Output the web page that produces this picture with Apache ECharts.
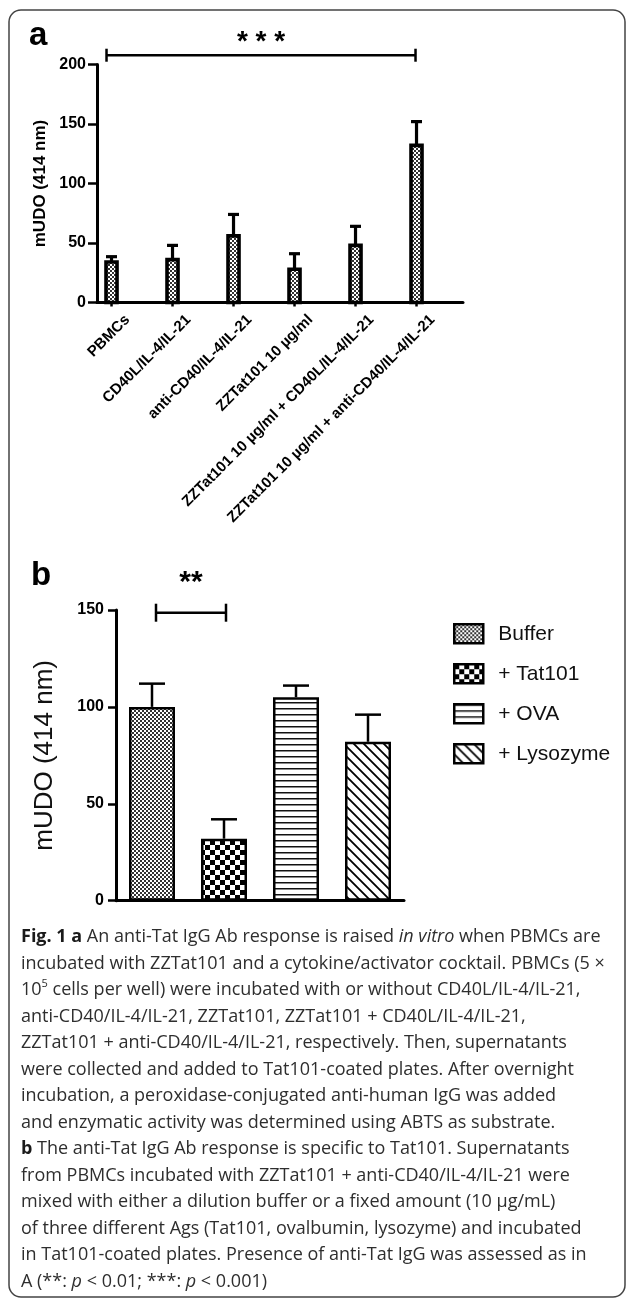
<!DOCTYPE html>
<html><head><meta charset="utf-8">
<script src="https://cdn.jsdelivr.net/npm/echarts@6/dist/echarts.min.js"></script>
<style>html,body{margin:0;padding:0;background:#fff}#c{width:627px;height:1301px}</style>
</head><body><div id="c"></div><script>
// ---------- data ----------
const catsA = ['PBMCs', 'CD40L/IL-4/IL-21', 'anti-CD40/IL-4/IL-21', 'ZZTat101 10 µg/ml',
  'ZZTat101 10 µg/ml + CD40L/IL-4/IL-21', 'ZZTat101 10 µg/ml + anti-CD40/IL-4/IL-21'];
const meanA = [34, 36, 56, 28, 48, 132];
const errTopA = [38.5, 48, 74, 41, 64, 152];
const ticksA = {min: 0, max: 200, interval: 50};
const sigA = [[0, 5, 207.8]];
const sigLabelA = ['* * *'];

const catsB = ['Buffer', '+ Tat101', '+ OVA', '+ Lysozyme'];
const meanB = [100, 32, 105, 82];
const errTopB = [112, 42, 111, 96];
const ticksB = {min: 0, max: 150, interval: 50};
const sigB = [[0, 1, 148.6]];
const sigLabelB = ['**'];

const yName = 'mUDO (414 nm)';
const captionLines = [
  '{b|Fig. 1 a} An anti-Tat IgG Ab response is raised {i|in vitro} when PBMCs are',
  'incubated with ZZTat101 and a cytokine/activator cocktail. PBMCs (5 ×',
  '10{sup|5} cells per well) were incubated with or without CD40L/IL-4/IL-21,',
  'anti-CD40/IL-4/IL-21, ZZTat101, ZZTat101 + CD40L/IL-4/IL-21,',
  'ZZTat101 + anti-CD40/IL-4/IL-21, respectively. Then, supernatants',
  'were collected and added to Tat101-coated plates. After overnight',
  'incubation, a peroxidase-conjugated anti-human IgG was added',
  'and enzymatic activity was determined using ABTS as substrate.',
  '{b|b} The anti-Tat IgG Ab response is specific to Tat101. Supernatants',
  'from PBMCs incubated with ZZTat101 + anti-CD40/IL-4/IL-21 were',
  'mixed with either a dilution buffer or a fixed amount (10 µg/mL)',
  'of three different Ags (Tat101, ovalbumin, lysozyme) and incubated',
  'in Tat101-coated plates. Presence of anti-Tat IgG was assessed as in',
  'A (**: {i|p} < 0.01; ***: {i|p} < 0.001)'
];

// ---------- patterns ----------
function pat(w, h, draw) {
  const c = document.createElement('canvas'); c.width = w; c.height = h;
  const g = c.getContext('2d'); g.fillStyle = '#fff'; g.fillRect(0, 0, w, h); draw(g);
  return {image: c, repeat: 'repeat'};
}
const finePat = pat(4, 4, g => { g.fillStyle = '#333'; g.fillRect(0, 0, 2, 2); g.fillRect(2, 2, 2, 2); });
const checkPat = pat(10, 10, g => { g.fillStyle = '#000'; g.fillRect(0, 0, 5, 5); g.fillRect(5, 5, 5, 5); });
const hlinePat = pat(6, 6, g => { g.fillStyle = '#111'; g.fillRect(0, 0, 6, 1); g.fillStyle = '#888'; g.fillRect(0, 1, 6, 1); });
const diagPat = pat(10, 10, g => {
  g.strokeStyle = '#000'; g.lineWidth = 1.8;
  g.beginPath(); g.moveTo(-1, -1); g.lineTo(11, 11); g.moveTo(-1, 9); g.lineTo(1, 11); g.moveTo(9, -1); g.lineTo(11, 1); g.stroke();
});
const patsB = [finePat, checkPat, hlinePat, diagPat];

const ARIAL = 'Liberation Sans';
const CAP = 'Open Sans';

// ---------- renderers ----------
function renderBarA(params, api) {
  const i = api.value(0), m = api.value(1), e = api.value(2);
  const base = api.coord([i, 0]), top = api.coord([i, m]), et = api.coord([i, e]);
  const band = api.size([1, 0])[0];
  const x = base[0] - band * 0.262;
  const w = 11;
  return {type: 'group', children: [
    {type: 'line', shape: {x1: x, y1: base[1], x2: x, y2: base[1] + 4}, style: {stroke: '#000', lineWidth: 2.5}},
    {type: 'line', shape: {x1: x, y1: top[1], x2: x, y2: et[1]}, style: {stroke: '#000', lineWidth: 3.2}},
    {type: 'line', shape: {x1: x - 5.5, y1: et[1], x2: x + 5.5, y2: et[1]}, style: {stroke: '#000', lineWidth: 3.2}},
    {type: 'rect', shape: {x: x - w / 2, y: top[1], width: w, height: base[1] - top[1]},
      style: {fill: finePat, stroke: '#000', lineWidth: 3.6}}
  ]};
}
function renderErrB(params, api) {
  const i = api.value(0), m = api.value(1), e = api.value(2);
  const top = api.coord([i, m]), et = api.coord([i, e]);
  return {type: 'group', children: [
    {type: 'line', shape: {x1: top[0], y1: top[1], x2: top[0], y2: et[1]}, style: {stroke: '#000', lineWidth: 2.5}},
    {type: 'line', shape: {x1: top[0] - 13, y1: et[1], x2: top[0] + 13, y2: et[1]}, style: {stroke: '#000', lineWidth: 2.5}}
  ]};
}
function makeBracket(labels, opts) {
  return function (params, api) {
    const band = api.size([1, 0])[0];
    const a = api.coord([api.value(0), api.value(2)]);
    const b = api.coord([api.value(1), api.value(2)]);
    const x1 = a[0] + opts.off * band + opts.dx1, x2 = b[0] + opts.off * band + opts.dx2, y = a[1];
    return {type: 'group', children: [
      {type: 'line', shape: {x1: x1, y1: y, x2: x2, y2: y}, style: {stroke: '#000', lineWidth: opts.lw}},
      {type: 'line', shape: {x1: x1, y1: y - opts.th, x2: x1, y2: y + opts.th}, style: {stroke: '#000', lineWidth: opts.lw}},
      {type: 'line', shape: {x1: x2, y1: y - opts.th, x2: x2, y2: y + opts.th}, style: {stroke: '#000', lineWidth: opts.lw}},
      {type: 'text', x: (x1 + x2) / 2, y: y - opts.ty, style: {text: labels[params.dataIndex], fontFamily: ARIAL,
        fontWeight: 'bold', fontSize: opts.fs, fill: '#000', align: 'center', verticalAlign: 'middle'}}
    ]};
  };
}

// ---------- chart ----------
const chart = echarts.init(document.getElementById('c'), null, {renderer: 'canvas'});
const axisLineStyle = {color: '#000', width: 3};

const captionGraphics = captionLines.map((t, k) => ({
  type: 'text', x: 21, y: 937 + k * 26.5, z: 10,
  style: {
    text: t, fontFamily: CAP, fontSize: 18, fill: '#2e2e2e', verticalAlign: 'middle', lineHeight: 24,
    rich: {
      b: {fontFamily: CAP, fontWeight: 'bold', fontSize: 18, fill: '#1a1a1a', lineHeight: 24},
      i: {fontFamily: CAP, fontStyle: 'italic', fontSize: 18, fill: '#2e2e2e', lineHeight: 24},
      sup: {fontFamily: CAP, fontSize: 11, fill: '#2e2e2e', lineHeight: 13, verticalAlign: 'top'}
    }
  }
}));

chart.setOption({
  animation: false,
  backgroundColor: '#fff',
  graphic: [
    {type: 'rect', shape: {x: 9, y: 10, width: 616, height: 1287, r: 12}, style: {fill: 'none', stroke: '#444', lineWidth: 1.5}, z: 0},
    {type: 'text', x: 29, y: 52, style: {text: 'a', fontFamily: ARIAL, fontWeight: 'bold', fontSize: 33, fill: '#000', verticalAlign: 'bottom'}},
    {type: 'text', x: 31, y: 592, style: {text: 'b', fontFamily: ARIAL, fontWeight: 'bold', fontSize: 33, fill: '#000', verticalAlign: 'bottom'}}
  ].concat(captionGraphics),
  legend: {
    data: catsB, orient: 'vertical', left: 453, top: 623, padding: 0, itemWidth: 29, itemHeight: 19, itemGap: 18.5,
    icon: 'rect', selectedMode: false,
    itemStyle: {borderColor: '#000', borderWidth: 2.5},
    textStyle: {fontFamily: ARIAL, fontSize: 21, color: '#111', padding: [0, 0, 0, 10]}
  },
  grid: [
    {left: 97, top: 64.5, width: 366, height: 238},
    {left: 116, top: 610, width: 288, height: 290.7}
  ],
  xAxis: [
    {gridIndex: 0, type: 'category', data: catsA, boundaryGap: true,
      axisLine: {lineStyle: axisLineStyle}, axisTick: {show: false},
      axisLabel: {rotate: 45, margin: 15, fontFamily: ARIAL, fontWeight: 'bold', fontSize: 15, color: '#000', interval: 0}},
    {gridIndex: 1, type: 'category', data: catsB, boundaryGap: true,
      axisLine: {lineStyle: axisLineStyle}, axisTick: {show: false}, axisLabel: {show: false}}
  ],
  yAxis: [
    {gridIndex: 0, type: 'value', min: ticksA.min, max: ticksA.max, interval: ticksA.interval,
      splitLine: {show: false}, axisLine: {show: true, lineStyle: axisLineStyle},
      axisTick: {show: true, length: 9, lineStyle: {color: '#000', width: 2.5}},
      axisLabel: {margin: 11, fontFamily: ARIAL, fontWeight: 'bold', fontSize: 16, color: '#000'},
      name: yName, nameLocation: 'middle', nameGap: 46,
      nameTextStyle: {fontFamily: ARIAL, fontWeight: 'bold', fontSize: 17, color: '#000'}},
    {gridIndex: 1, type: 'value', min: ticksB.min, max: ticksB.max, interval: ticksB.interval,
      splitLine: {show: false}, axisLine: {show: true, lineStyle: axisLineStyle},
      axisTick: {show: true, length: 8, lineStyle: {color: '#000', width: 2.5}},
      axisLabel: {margin: 12, fontFamily: ARIAL, fontWeight: 'bold', fontSize: 16, color: '#000'},
      name: yName, nameLocation: 'middle', nameGap: 58,
      nameTextStyle: {fontFamily: ARIAL, fontSize: 26, color: '#111'}}
  ],
  series: [
    {type: 'custom', name: 'panelA', xAxisIndex: 0, yAxisIndex: 0, clip: false,
      data: meanA.map((m, i) => [i, m, errTopA[i]]), encode: {x: 0, y: [1, 2]}, renderItem: renderBarA},
    {type: 'custom', name: 'sigA', xAxisIndex: 0, yAxisIndex: 0, clip: false, z: 5,
      data: sigA, encode: {x: [0, 1], y: 2},
      renderItem: makeBracket(sigLabelA, {off: -0.262, dx1: -5, dx2: -1, lw: 2.5, th: 6.5, ty: 13, fs: 28})},
  ].concat(catsB.map((name, k) => ({
    type: 'bar', name: name, xAxisIndex: 1, yAxisIndex: 1, barWidth: 46, barGap: '-100%',
    data: meanB.map((v, j) => (j === k ? v : '-')),
    itemStyle: {color: patsB[k], borderColor: '#000', borderWidth: 2.5}
  }))).concat([
    {type: 'custom', name: 'errB', xAxisIndex: 1, yAxisIndex: 1, clip: false, z: 1,
      data: meanB.map((m, i) => [i, m, errTopB[i]]), encode: {x: 0, y: [1, 2]}, renderItem: renderErrB},
    {type: 'custom', name: 'sigB', xAxisIndex: 1, yAxisIndex: 1, clip: false, z: 5,
      data: sigB, encode: {x: [0, 1], y: 2},
      renderItem: makeBracket(sigLabelB, {off: 0, dx1: 4, dx2: 2, lw: 2.5, th: 9, ty: 30, fs: 30})}
  ])
});
</script></body></html>
